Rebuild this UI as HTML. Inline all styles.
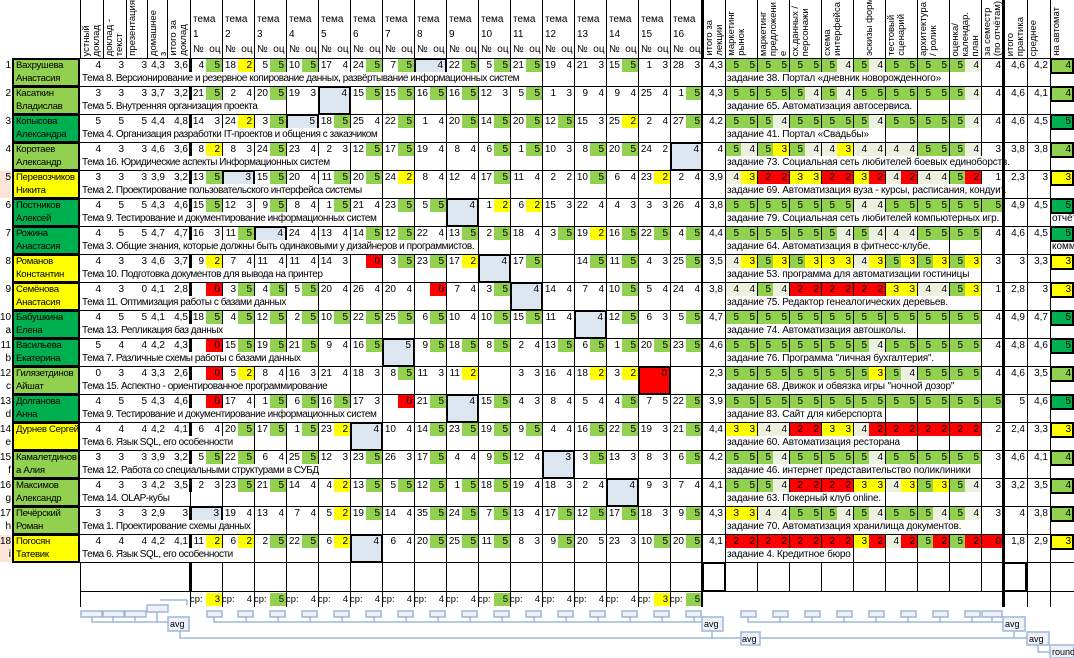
<!DOCTYPE html>
<html><head><meta charset="utf-8">
<style>
*{box-sizing:border-box}
body{margin:0;width:1074px;height:658px;overflow:hidden;background:#fff;font-family:"Liberation Sans",sans-serif;font-size:10px;color:#000;position:relative}
.r{position:absolute;left:0;width:1074px;height:28px}
.r:before{content:"";position:absolute;left:80px;right:0;top:0;height:1px;background:#000;z-index:4}
.n{position:absolute;left:0;top:1px;width:11px;height:27px;text-align:right;line-height:13px;font-size:10px}
.nm{position:absolute;left:12px;top:0;width:68px;height:29px;border:2px solid #000;padding-left:2px;line-height:12.5px;font-size:9.6px;letter-spacing:-0.3px;z-index:5;white-space:nowrap;overflow:hidden}
.t{position:absolute;left:80px;top:1px;width:994px;height:13px;display:grid;grid-template-columns:23px 23px 23px 18px 23px repeat(32,16px) 23px repeat(16,16px) 22px 24px 23px 24px}
.t i{font-style:normal;text-align:right;padding-right:2px;line-height:13px;overflow:hidden;white-space:nowrap;height:13px}
.t i:last-child{visibility:hidden}
.g{background:#92d050}.G{background:#00b050}.y{background:#ffff00}.rd{background:#ff0000}.l{background:#ebf1de}
.at{position:absolute;left:1050px;top:0;width:24px;height:16px;border:2px solid #000;text-align:right;padding-right:1px;line-height:12px;z-index:5}
.v1{position:absolute;left:190px;top:0;width:513px;height:28px;background:repeating-linear-gradient(90deg,#000 0 1px,transparent 1px 32px);z-index:1}
.v2{position:absolute;left:725px;top:0;width:257px;height:28px;background:repeating-linear-gradient(90deg,#000 0 1px,transparent 1px 32px);z-index:1}
.v3{position:absolute;top:0;width:1px;height:28px;background:#000;z-index:1}
.th{position:absolute;left:189px;top:0;width:3px;height:14px;background:#000;z-index:2}
.tp{position:absolute;left:82px;top:14px;height:14px;line-height:14px;background:#fff;padding-right:2px;white-space:nowrap;font-size:10px;letter-spacing:-0.45px;z-index:3}
.zp{position:absolute;left:727px;top:14px;height:14px;line-height:14px;background:#fff;padding-right:2px;white-space:nowrap;font-size:10px;letter-spacing:-0.2px;z-index:3}
.bk{position:absolute;top:0;width:33px;height:29px;border:2px solid #000;background:#dce6f1;text-align:right;padding-right:2px;line-height:12px;z-index:2}
.bk.red{background:#ff0000}
.gl{position:absolute;background:#000;z-index:6}
.hd{position:absolute;top:0;height:58px;border-left:1px solid #000}
.rot{position:absolute;bottom:2px;left:1px;writing-mode:vertical-rl;transform:rotate(180deg);font-size:9.5px;line-height:10px;white-space:nowrap}
.tm{position:absolute;top:12px;font-size:10px;line-height:15px;white-space:nowrap}
.ex{position:absolute;left:1052px;top:14px;font-size:10px;line-height:14px;white-space:nowrap}
</style></head><body>

<div class="hd" style="left:80px;width:23px"><div class="rot">устный<br>доклад</div></div>
<div class="hd" style="left:103px;width:23px"><div class="rot">доклад -<br>текст</div></div>
<div class="hd" style="left:126px;width:21px"><div class="rot">презентация</div></div>
<div class="hd" style="left:147px;width:20px"><div class="rot">домашнее<br>з</div></div>
<div class="hd" style="left:167px;width:23px"><div class="rot">итого за<br>доклад</div></div>
<div style="position:absolute;left:190px;top:0;width:513px;height:58px;background:repeating-linear-gradient(90deg,#000 0 1px,transparent 1px 32px)"></div>
<div class="tm" style="left:193px">тема<br>1<br>№&nbsp;&nbsp;оц</div>
<div class="tm" style="left:225px">тема<br>2<br>№&nbsp;&nbsp;оц</div>
<div class="tm" style="left:257px">тема<br>3<br>№&nbsp;&nbsp;оц</div>
<div class="tm" style="left:289px">тема<br>4<br>№&nbsp;&nbsp;оц</div>
<div class="tm" style="left:321px">тема<br>5<br>№&nbsp;&nbsp;оц</div>
<div class="tm" style="left:353px">тема<br>6<br>№&nbsp;&nbsp;оц</div>
<div class="tm" style="left:385px">тема<br>7<br>№&nbsp;&nbsp;оц</div>
<div class="tm" style="left:417px">тема<br>8<br>№&nbsp;&nbsp;оц</div>
<div class="tm" style="left:449px">тема<br>9<br>№&nbsp;&nbsp;оц</div>
<div class="tm" style="left:481px">тема<br>10<br>№&nbsp;&nbsp;оц</div>
<div class="tm" style="left:513px">тема<br>11<br>№&nbsp;&nbsp;оц</div>
<div class="tm" style="left:545px">тема<br>12<br>№&nbsp;&nbsp;оц</div>
<div class="tm" style="left:577px">тема<br>13<br>№&nbsp;&nbsp;оц</div>
<div class="tm" style="left:609px">тема<br>14<br>№&nbsp;&nbsp;оц</div>
<div class="tm" style="left:641px">тема<br>15<br>№&nbsp;&nbsp;оц</div>
<div class="tm" style="left:673px">тема<br>16<br>№&nbsp;&nbsp;оц</div>
<div class="hd" style="left:703px;width:22px"><div class="rot">итого за<br>лекции</div></div>
<div class="hd" style="left:725px;width:32px"><div class="rot">маркетинг<br>рынок</div></div>
<div class="hd" style="left:757px;width:32px"><div class="rot">маркетинг<br>предложени<br>е</div></div>
<div class="hd" style="left:789px;width:32px"><div class="rot">сх.данных /<br>персонажи</div></div>
<div class="hd" style="left:821px;width:32px"><div class="rot">схема<br>интерфейса</div></div>
<div class="hd" style="left:853px;width:32px"><div class="rot">&nbsp;<br>эскизы форм</div></div>
<div class="hd" style="left:885px;width:32px"><div class="rot">тестовый<br>сценарий</div></div>
<div class="hd" style="left:917px;width:32px"><div class="rot">архитектура<br>/ ролик</div></div>
<div class="hd" style="left:949px;width:32px"><div class="rot">оценка/<br>календар.<br>план</div></div>
<div class="hd" style="left:981px;width:22px"><div class="rot">за семестр<br>(по отчётам)</div></div>
<div class="hd" style="left:1004px;width:23px"><div class="rot">итого<br>практика</div></div>
<div class="hd" style="left:1027px;width:23px"><div class="rot">среднее</div></div>
<div class="hd" style="left:1050px;width:24px"><div class="rot">на автомат</div></div>

<div class="gl" style="left:701px;top:0;width:2px;height:607px"></div>
<div class="gl" style="left:1002px;top:0;width:3px;height:607px"></div>
<div class="gl" style="left:80px;top:562px;width:994px;height:1px"></div>
<div class="gl" style="left:80px;top:591px;width:994px;height:1px"></div>

<div class="r" style="top:58px"><div class="n">1</div><div class="nm g">Вахрушева<br>Анастасия</div><div class="t"><i>4</i><i>3</i><i>3</i><i>4,3</i><i>3,6</i><i>4</i><i class=g>5</i><i>18</i><i class=y>2</i><i>5</i><i class=g>5</i><i>10</i><i class=g>5</i><i>17</i><i>4</i><i>24</i><i class=g>5</i><i>7</i><i class=g>5</i><i></i><i></i><i>22</i><i class=g>5</i><i>5</i><i class=g>5</i><i>21</i><i class=g>5</i><i>19</i><i>4</i><i>21</i><i>3</i><i>15</i><i class=g>5</i><i>1</i><i>3</i><i>28</i><i>3</i><i>4,3</i><i class=g>5</i><i class=g>5</i><i class=g>5</i><i class=g>5</i><i class=g>5</i><i class=g>5</i><i class=g>5</i><i class=l>4</i><i class=g>5</i><i class=l>4</i><i class=g>5</i><i class=g>5</i><i class=g>5</i><i class=g>5</i><i class=g>5</i><i class=l>4</i><i>4</i><i>4,6</i><i>4,2</i><i></i></div><div class="at g">4</div><div class="v1"></div><div class="v2"></div><div class="th"></div><div class="v3" style="left:1027px"></div><div class="v3" style="left:1050px"></div><div class="bk" style="left:414px">4</div><div class="tp">Тема 8. Версионирование и резервное копирование данных, развёртывание информационных систем</div><div class="zp">задание 38. Портал «дневник новорожденного»</div></div>

<div class="r" style="top:86px"><div class="n">2</div><div class="nm g">Касаткин<br>Владислав</div><div class="t"><i>3</i><i>3</i><i>3</i><i>3,7</i><i>3,2</i><i>21</i><i class=g>5</i><i>2</i><i>4</i><i>20</i><i class=g>5</i><i>19</i><i>3</i><i></i><i></i><i>15</i><i class=g>5</i><i>15</i><i class=g>5</i><i>16</i><i class=g>5</i><i>16</i><i class=g>5</i><i>12</i><i>3</i><i>5</i><i class=g>5</i><i>1</i><i>3</i><i>9</i><i>4</i><i>9</i><i>4</i><i>25</i><i>4</i><i>1</i><i class=g>5</i><i>4,3</i><i class=g>5</i><i class=g>5</i><i class=g>5</i><i class=g>5</i><i class=g>5</i><i class=l>4</i><i class=g>5</i><i class=l>4</i><i class=g>5</i><i class=g>5</i><i class=g>5</i><i class=g>5</i><i class=g>5</i><i class=g>5</i><i class=g>5</i><i class=l>4</i><i>4</i><i>4,6</i><i>4,1</i><i></i></div><div class="at g">4</div><div class="v1"></div><div class="v2"></div><div class="th"></div><div class="v3" style="left:1027px"></div><div class="v3" style="left:1050px"></div><div class="bk" style="left:318px">4</div><div class="tp">Тема 5. Внутренняя организация проекта</div><div class="zp">задание 65. Автоматизация автосервиса.</div></div>

<div class="r" style="top:114px"><div class="n">3</div><div class="nm G">Копысова<br>Александра</div><div class="t"><i>5</i><i>5</i><i>5</i><i>4,4</i><i>4,8</i><i>14</i><i>3</i><i>24</i><i class=y>2</i><i>3</i><i class=g>5</i><i></i><i></i><i>18</i><i class=g>5</i><i>25</i><i>4</i><i>22</i><i class=g>5</i><i>1</i><i>4</i><i>20</i><i class=g>5</i><i>14</i><i class=g>5</i><i>20</i><i class=g>5</i><i>12</i><i class=g>5</i><i>15</i><i>3</i><i>25</i><i class=y>2</i><i>2</i><i>4</i><i>27</i><i class=g>5</i><i>4,2</i><i class=g>5</i><i class=g>5</i><i class=g>5</i><i class=l>4</i><i class=g>5</i><i class=g>5</i><i class=g>5</i><i class=g>5</i><i class=g>5</i><i class=l>4</i><i class=g>5</i><i class=g>5</i><i class=g>5</i><i class=g>5</i><i class=g>5</i><i class=l>4</i><i>4</i><i>4,6</i><i>4,5</i><i></i></div><div class="at G">5</div><div class="v1"></div><div class="v2"></div><div class="th"></div><div class="v3" style="left:1027px"></div><div class="v3" style="left:1050px"></div><div class="bk" style="left:286px">5</div><div class="tp">Тема 4. Организация разработки IT-проектов и общения с заказчиком</div><div class="zp">задание 41. Портал «Свадьбы»</div></div>

<div class="r" style="top:142px"><div class="n">4</div><div class="nm g">Коротаев<br>Александр</div><div class="t"><i>4</i><i>3</i><i>3</i><i>4,6</i><i>3,6</i><i>8</i><i class=y>2</i><i>8</i><i>3</i><i>24</i><i class=g>5</i><i>23</i><i>4</i><i>2</i><i>3</i><i>12</i><i class=g>5</i><i>17</i><i class=g>5</i><i>19</i><i>4</i><i>8</i><i>4</i><i>6</i><i class=g>5</i><i>1</i><i class=g>5</i><i>10</i><i>3</i><i>8</i><i class=g>5</i><i>20</i><i class=g>5</i><i>24</i><i>2</i><i></i><i></i><i>4</i><i class=g>5</i><i class=l>4</i><i class=g>5</i><i class=y>3</i><i class=g>5</i><i class=l>4</i><i class=l>4</i><i class=y>3</i><i class=l>4</i><i class=l>4</i><i class=l>4</i><i class=l>4</i><i class=g>5</i><i class=g>5</i><i class=g>5</i><i class=l>4</i><i>3</i><i>3,8</i><i>3,8</i><i></i></div><div class="at g">4</div><div class="v1"></div><div class="v2"></div><div class="th"></div><div class="v3" style="left:1027px"></div><div class="v3" style="left:1050px"></div><div class="bk" style="left:670px">4</div><div class="tp">Тема 16. Юридические аспекты Информационных систем</div><div class="zp">задание 73. Социальная сеть любителей боевых единоборств.</div></div>

<div class="r" style="top:170px"><div class="n" style="background:#fce4d6">5</div><div class="nm y">Перевозчиков<br>Никита</div><div class="t"><i>3</i><i>3</i><i>3</i><i>3,9</i><i>3,2</i><i>13</i><i class=g>5</i><i></i><i></i><i>15</i><i class=g>5</i><i>20</i><i>4</i><i>11</i><i class=g>5</i><i>20</i><i class=g>5</i><i>24</i><i class=y>2</i><i>8</i><i>4</i><i>12</i><i>4</i><i>17</i><i class=g>5</i><i>11</i><i>4</i><i>2</i><i>2</i><i>10</i><i class=g>5</i><i>6</i><i>4</i><i>23</i><i class=y>2</i><i>2</i><i>4</i><i>3,9</i><i class=l>4</i><i class=y>3</i><i class=rd>2</i><i class=rd>2</i><i class=y>3</i><i class=y>3</i><i class=rd>2</i><i class=rd>2</i><i class=y>3</i><i class=rd>2</i><i class=l>4</i><i class=rd>2</i><i class=l>4</i><i class=l>4</i><i class=g>5</i><i class=rd>2</i><i>1</i><i>2,3</i><i>3</i><i></i></div><div class="at y">3</div><div class="v1"></div><div class="v2"></div><div class="th"></div><div class="v3" style="left:1027px"></div><div class="v3" style="left:1050px"></div><div class="bk" style="left:222px">3</div><div class="tp">Тема 2. Проектирование пользовательского интерфейса системы</div><div class="zp">задание 69. Автоматизация вуза - курсы, расписания, кондуит.</div></div>

<div class="r" style="top:198px"><div class="n">6</div><div class="nm G">Постников<br>Алексей</div><div class="t"><i>4</i><i>5</i><i>5</i><i>4,3</i><i>4,6</i><i>15</i><i class=g>5</i><i>12</i><i>3</i><i>9</i><i class=g>5</i><i>8</i><i>4</i><i>1</i><i class=g>5</i><i>21</i><i>4</i><i>23</i><i class=g>5</i><i>5</i><i class=g>5</i><i></i><i></i><i>1</i><i class=y>2</i><i>6</i><i class=y>2</i><i>15</i><i>3</i><i>22</i><i>4</i><i>4</i><i>3</i><i>3</i><i>3</i><i>26</i><i>4</i><i>3,8</i><i class=g>5</i><i class=g>5</i><i class=g>5</i><i class=g>5</i><i class=g>5</i><i class=g>5</i><i class=g>5</i><i class=g>5</i><i class=l>4</i><i class=l>4</i><i class=g>5</i><i class=g>5</i><i class=g>5</i><i class=g>5</i><i class=g>5</i><i class=g>5</i><i class=g>5</i><i>4,9</i><i>4,5</i><i></i></div><div class="at G">5</div><div class="v1"></div><div class="v2"></div><div class="th"></div><div class="v3" style="left:1027px"></div><div class="v3" style="left:1050px"></div><div class="bk" style="left:446px">4</div><div class="tp">Тема 9. Тестирование и документирование информационных систем</div><div class="zp">задание 79. Социальная сеть любителей компьютерных игр.</div><div class="ex">отчёт</div></div>

<div class="r" style="top:226px"><div class="n">7</div><div class="nm G">Рожина<br>Анастасия</div><div class="t"><i>4</i><i>5</i><i>5</i><i>4,7</i><i>4,7</i><i>16</i><i>3</i><i>11</i><i class=g>5</i><i></i><i></i><i>24</i><i>4</i><i>13</i><i>4</i><i>14</i><i class=g>5</i><i>12</i><i class=g>5</i><i>22</i><i>4</i><i>13</i><i class=g>5</i><i>2</i><i class=g>5</i><i>18</i><i>4</i><i>3</i><i class=g>5</i><i>19</i><i class=y>2</i><i>16</i><i class=g>5</i><i>22</i><i class=g>5</i><i>4</i><i class=g>5</i><i>4,4</i><i class=g>5</i><i class=g>5</i><i class=g>5</i><i class=g>5</i><i class=g>5</i><i class=g>5</i><i class=g>5</i><i class=l>4</i><i class=g>5</i><i class=l>4</i><i class=l>4</i><i class=l>4</i><i class=g>5</i><i class=g>5</i><i class=g>5</i><i class=g>5</i><i>4</i><i>4,6</i><i>4,5</i><i></i></div><div class="at G">5</div><div class="v1"></div><div class="v2"></div><div class="th"></div><div class="v3" style="left:1027px"></div><div class="v3" style="left:1050px"></div><div class="bk" style="left:254px">4</div><div class="tp">Тема 3. Общие знания, которые должны быть одинаковыми у дизайнеров и программистов.</div><div class="zp">задание 64. Автоматизация в фитнесс-клубе.</div><div class="ex">комм</div></div>

<div class="r" style="top:254px"><div class="n">8</div><div class="nm y">Романов<br>Константин</div><div class="t"><i>4</i><i>3</i><i>3</i><i>4,6</i><i>3,7</i><i>9</i><i class=y>2</i><i>7</i><i>4</i><i>11</i><i>4</i><i>11</i><i>4</i><i>14</i><i>3</i><i></i><i class=rd>0</i><i>3</i><i class=g>5</i><i>23</i><i class=g>5</i><i>17</i><i class=y>2</i><i></i><i></i><i>17</i><i class=g>5</i><i></i><i></i><i>14</i><i class=g>5</i><i>11</i><i class=g>5</i><i>4</i><i>3</i><i>25</i><i class=g>5</i><i>3,5</i><i class=l>4</i><i class=y>3</i><i class=g>5</i><i class=y>3</i><i class=g>5</i><i class=y>3</i><i class=y>3</i><i class=y>3</i><i class=l>4</i><i class=y>3</i><i class=g>5</i><i class=y>3</i><i class=g>5</i><i class=y>3</i><i class=g>5</i><i class=y>3</i><i>3</i><i>3</i><i>3,3</i><i></i></div><div class="at y">3</div><div class="v1"></div><div class="v2"></div><div class="th"></div><div class="v3" style="left:1027px"></div><div class="v3" style="left:1050px"></div><div class="bk" style="left:478px">4</div><div class="tp">Тема 10. Подготовка документов для вывода на принтер</div><div class="zp">задание 53. программа для автоматизации гостиницы</div></div>

<div class="r" style="top:282px"><div class="n">9</div><div class="nm y">Семёнова<br>Анастасия</div><div class="t"><i>4</i><i>3</i><i>0</i><i>4,1</i><i>2,8</i><i></i><i class=rd>0</i><i>3</i><i class=g>5</i><i>4</i><i class=g>5</i><i>5</i><i class=g>5</i><i>20</i><i>4</i><i>26</i><i>4</i><i>20</i><i>4</i><i></i><i class=rd>0</i><i>7</i><i>4</i><i>3</i><i class=g>5</i><i></i><i></i><i>14</i><i>4</i><i>7</i><i>4</i><i>10</i><i class=g>5</i><i>5</i><i>4</i><i>24</i><i>4</i><i>3,8</i><i class=l>4</i><i class=l>4</i><i class=g>5</i><i class=l>4</i><i class=rd>2</i><i class=rd>2</i><i class=rd>2</i><i class=rd>2</i><i class=rd>2</i><i class=rd>2</i><i class=y>3</i><i class=y>3</i><i class=l>4</i><i class=l>4</i><i class=g>5</i><i class=y>3</i><i>1</i><i>2,8</i><i>3</i><i></i></div><div class="at y">3</div><div class="v1"></div><div class="v2"></div><div class="th"></div><div class="v3" style="left:1027px"></div><div class="v3" style="left:1050px"></div><div class="bk" style="left:510px">4</div><div class="tp">Тема 11. Оптимизация работы с базами данных</div><div class="zp">задание 75. Редактор генеалогических деревьев.</div></div>

<div class="r" style="top:310px"><div class="n">10<br>a</div><div class="nm G">Бабушкина<br>Елена</div><div class="t"><i>4</i><i>5</i><i>5</i><i>4,1</i><i>4,5</i><i>18</i><i class=g>5</i><i>4</i><i class=g>5</i><i>12</i><i class=g>5</i><i>2</i><i class=g>5</i><i>10</i><i class=g>5</i><i>22</i><i class=g>5</i><i>25</i><i class=g>5</i><i>6</i><i class=g>5</i><i>10</i><i>4</i><i>10</i><i class=g>5</i><i>15</i><i class=g>5</i><i>11</i><i>4</i><i></i><i></i><i>12</i><i class=g>5</i><i>6</i><i>3</i><i>5</i><i class=g>5</i><i>4,7</i><i class=g>5</i><i class=g>5</i><i class=g>5</i><i class=g>5</i><i class=g>5</i><i class=g>5</i><i class=g>5</i><i class=g>5</i><i class=g>5</i><i class=g>5</i><i class=g>5</i><i class=g>5</i><i class=g>5</i><i class=g>5</i><i class=g>5</i><i class=g>5</i><i>4</i><i>4,9</i><i>4,7</i><i></i></div><div class="at G">5</div><div class="v1"></div><div class="v2"></div><div class="th"></div><div class="v3" style="left:1027px"></div><div class="v3" style="left:1050px"></div><div class="bk" style="left:574px">4</div><div class="tp">Тема 13. Репликация баз данных</div><div class="zp">задание 74. Автоматизация автошколы.</div></div>

<div class="r" style="top:338px"><div class="n">11<br>b</div><div class="nm G">Васильева<br>Екатерина</div><div class="t"><i>5</i><i>4</i><i>4</i><i>4,2</i><i>4,3</i><i></i><i class=rd>0</i><i>15</i><i class=g>5</i><i>19</i><i class=g>5</i><i>21</i><i class=g>5</i><i>9</i><i>4</i><i>16</i><i class=g>5</i><i></i><i></i><i>9</i><i class=g>5</i><i>18</i><i class=g>5</i><i>8</i><i class=g>5</i><i>2</i><i>4</i><i>13</i><i class=g>5</i><i>6</i><i class=g>5</i><i>1</i><i class=g>5</i><i>20</i><i class=g>5</i><i>23</i><i class=g>5</i><i>4,6</i><i class=g>5</i><i class=g>5</i><i class=g>5</i><i class=g>5</i><i class=g>5</i><i class=g>5</i><i class=g>5</i><i class=g>5</i><i class=g>5</i><i class=l>4</i><i class=g>5</i><i class=g>5</i><i class=g>5</i><i class=g>5</i><i class=g>5</i><i class=g>5</i><i>4</i><i>4,8</i><i>4,6</i><i></i></div><div class="at G">5</div><div class="v1"></div><div class="v2"></div><div class="th"></div><div class="v3" style="left:1027px"></div><div class="v3" style="left:1050px"></div><div class="bk" style="left:382px">5</div><div class="tp">Тема 7. Различные схемы работы с базами данных</div><div class="zp">задание 76. Программа "личная бухгалтерия".</div></div>

<div class="r" style="top:366px"><div class="n">12<br>c</div><div class="nm g">Гилязетдинов<br>Айшат</div><div class="t"><i>0</i><i>3</i><i>4</i><i>3,3</i><i>2,6</i><i></i><i class=rd>0</i><i>5</i><i class=y>2</i><i>8</i><i>4</i><i>16</i><i>3</i><i>21</i><i>4</i><i>18</i><i>3</i><i>8</i><i class=g>5</i><i>11</i><i>3</i><i>11</i><i class=y>2</i><i></i><i></i><i>3</i><i>3</i><i>16</i><i>4</i><i>18</i><i class=y>2</i><i>3</i><i class=y>2</i><i></i><i></i><i></i><i></i><i>2,3</i><i class=g>5</i><i class=g>5</i><i class=g>5</i><i class=g>5</i><i class=g>5</i><i class=g>5</i><i class=g>5</i><i class=g>5</i><i class=g>5</i><i class=y>3</i><i class=g>5</i><i class=l>4</i><i class=g>5</i><i class=g>5</i><i class=g>5</i><i class=g>5</i><i>4</i><i>4,6</i><i>3,5</i><i></i></div><div class="at g">4</div><div class="v1"></div><div class="v2"></div><div class="th"></div><div class="v3" style="left:1027px"></div><div class="v3" style="left:1050px"></div><div class="bk red" style="left:638px">0</div><div class="tp">Тема 15. Аспектно - ориентированное программирование</div><div class="zp">задание 68. Движок и обвязка игры "ночной дозор"</div></div>

<div class="r" style="top:394px"><div class="n">13<br>d</div><div class="nm G">Долганова<br>Анна</div><div class="t"><i>4</i><i>5</i><i>5</i><i>4,3</i><i>4,6</i><i></i><i class=rd>0</i><i>17</i><i>4</i><i>1</i><i class=g>5</i><i>6</i><i class=g>5</i><i>16</i><i class=g>5</i><i>17</i><i>3</i><i></i><i class=rd>0</i><i>21</i><i class=g>5</i><i></i><i></i><i>15</i><i class=g>5</i><i>4</i><i>3</i><i>8</i><i>4</i><i>5</i><i>4</i><i>4</i><i class=g>5</i><i>7</i><i>5</i><i>22</i><i class=g>5</i><i>3,9</i><i class=g>5</i><i class=g>5</i><i class=g>5</i><i class=g>5</i><i class=g>5</i><i class=g>5</i><i class=g>5</i><i class=g>5</i><i class=g>5</i><i class=g>5</i><i class=g>5</i><i class=g>5</i><i class=g>5</i><i class=g>5</i><i class=g>5</i><i class=g>5</i><i class=g>5</i><i>5</i><i>4,6</i><i></i></div><div class="at G">5</div><div class="v1"></div><div class="v2"></div><div class="th"></div><div class="v3" style="left:1027px"></div><div class="v3" style="left:1050px"></div><div class="bk" style="left:446px">4</div><div class="tp">Тема 9. Тестирование и документирование информационных систем</div><div class="zp">задание 83. Сайт для киберспорта</div></div>

<div class="r" style="top:422px"><div class="n">14<br>e</div><div class="nm y">Дурнев Сергей</div><div class="t"><i>4</i><i>4</i><i>4</i><i>4,2</i><i>4,1</i><i>6</i><i>4</i><i>20</i><i class=g>5</i><i>17</i><i class=g>5</i><i>1</i><i class=g>5</i><i>23</i><i class=y>2</i><i></i><i></i><i>10</i><i>4</i><i>14</i><i class=g>5</i><i>23</i><i class=g>5</i><i>19</i><i class=g>5</i><i>9</i><i class=g>5</i><i>4</i><i>4</i><i>16</i><i class=g>5</i><i>22</i><i class=g>5</i><i>19</i><i>3</i><i>21</i><i class=g>5</i><i>4,4</i><i class=y>3</i><i class=y>3</i><i class=l>4</i><i class=l>4</i><i class=rd>2</i><i class=rd>2</i><i class=y>3</i><i class=y>3</i><i class=l>4</i><i class=rd>2</i><i class=rd>2</i><i class=rd>2</i><i class=rd>2</i><i class=rd>2</i><i class=rd>2</i><i class=rd>2</i><i>2</i><i>2,4</i><i>3,3</i><i></i></div><div class="at y">3</div><div class="v1"></div><div class="v2"></div><div class="th"></div><div class="v3" style="left:1027px"></div><div class="v3" style="left:1050px"></div><div class="bk" style="left:350px">4</div><div class="tp">Тема 6. Язык SQL, его особенности</div><div class="zp">задание 60. Автоматизация ресторана</div></div>

<div class="r" style="top:450px"><div class="n">15<br>f</div><div class="nm g">Камалетдинов<br>а Алия</div><div class="t"><i>3</i><i>3</i><i>3</i><i>3,9</i><i>3,2</i><i>5</i><i class=g>5</i><i>22</i><i class=g>5</i><i>6</i><i>4</i><i>25</i><i class=g>5</i><i>12</i><i>3</i><i>23</i><i class=g>5</i><i>26</i><i>3</i><i>17</i><i class=g>5</i><i>4</i><i>4</i><i>9</i><i class=g>5</i><i>12</i><i>4</i><i></i><i></i><i>3</i><i class=g>5</i><i>13</i><i>3</i><i>8</i><i>3</i><i>6</i><i class=g>5</i><i>4,2</i><i class=g>5</i><i class=g>5</i><i class=g>5</i><i class=l>4</i><i class=g>5</i><i class=g>5</i><i class=g>5</i><i class=g>5</i><i class=g>5</i><i class=l>4</i><i class=g>5</i><i class=g>5</i><i class=g>5</i><i class=g>5</i><i class=g>5</i><i class=g>5</i><i>3</i><i>4,6</i><i>4,1</i><i></i></div><div class="at g">4</div><div class="v1"></div><div class="v2"></div><div class="th"></div><div class="v3" style="left:1027px"></div><div class="v3" style="left:1050px"></div><div class="bk" style="left:542px">3</div><div class="tp">Тема 12. Работа со специальными структурами в СУБД</div><div class="zp">задание 46. интернет представительство поликлиники</div></div>

<div class="r" style="top:478px"><div class="n">16<br>g</div><div class="nm g">Максимов<br>Александр</div><div class="t"><i>4</i><i>3</i><i>3</i><i>4,2</i><i>3,5</i><i>2</i><i>3</i><i>23</i><i class=g>5</i><i>21</i><i class=g>5</i><i>14</i><i>4</i><i>4</i><i class=y>2</i><i>13</i><i class=g>5</i><i>5</i><i class=g>5</i><i>12</i><i class=g>5</i><i>1</i><i class=g>5</i><i>18</i><i class=g>5</i><i>19</i><i>4</i><i>18</i><i>3</i><i>2</i><i>4</i><i></i><i></i><i>9</i><i>3</i><i>7</i><i>4</i><i>4,1</i><i class=g>5</i><i class=g>5</i><i class=g>5</i><i class=l>4</i><i class=rd>2</i><i class=rd>2</i><i class=rd>2</i><i class=rd>2</i><i class=y>3</i><i class=y>3</i><i class=l>4</i><i class=y>3</i><i class=g>5</i><i class=y>3</i><i class=g>5</i><i class=l>4</i><i>3</i><i>3,2</i><i>3,5</i><i></i></div><div class="at g">4</div><div class="v1"></div><div class="v2"></div><div class="th"></div><div class="v3" style="left:1027px"></div><div class="v3" style="left:1050px"></div><div class="bk" style="left:606px">4</div><div class="tp">Тема 14. OLAP-кубы</div><div class="zp">задание 63. Покерный клуб online.</div></div>

<div class="r" style="top:506px"><div class="n">17<br>h</div><div class="nm g">Печёрский<br>Роман</div><div class="t"><i>3</i><i>3</i><i>3</i><i>2,9</i><i>3</i><i></i><i></i><i>19</i><i>4</i><i>13</i><i>4</i><i>7</i><i>4</i><i>5</i><i class=y>2</i><i>19</i><i class=g>5</i><i>14</i><i>4</i><i>35</i><i class=g>5</i><i>24</i><i class=g>5</i><i>7</i><i class=g>5</i><i>13</i><i>4</i><i>17</i><i class=g>5</i><i>12</i><i class=g>5</i><i>17</i><i class=g>5</i><i>18</i><i>3</i><i>9</i><i class=g>5</i><i>4,3</i><i class=y>3</i><i class=y>3</i><i class=l>4</i><i class=l>4</i><i class=g>5</i><i class=g>5</i><i class=g>5</i><i class=l>4</i><i class=g>5</i><i class=l>4</i><i class=g>5</i><i class=g>5</i><i class=g>5</i><i class=l>4</i><i class=g>5</i><i class=l>4</i><i>3</i><i>4</i><i>3,8</i><i></i></div><div class="at g">4</div><div class="v1"></div><div class="v2"></div><div class="th"></div><div class="v3" style="left:1027px"></div><div class="v3" style="left:1050px"></div><div class="bk" style="left:190px">3</div><div class="tp">Тема 1. Проектирование схемы данных</div><div class="zp">задание 70. Автоматизация хранилища документов.</div></div>

<div class="r" style="top:534px"><div class="n" style="background:#fce4d6">18<br>i</div><div class="nm y">Погосян<br>Татевик</div><div class="t"><i>4</i><i>4</i><i>4</i><i>4,2</i><i>4,1</i><i>11</i><i class=y>2</i><i>6</i><i class=y>2</i><i>2</i><i class=g>5</i><i>22</i><i class=g>5</i><i>6</i><i class=y>2</i><i></i><i></i><i>6</i><i>4</i><i>20</i><i class=g>5</i><i>25</i><i class=g>5</i><i>11</i><i class=g>5</i><i>8</i><i>3</i><i>9</i><i class=g>5</i><i>20</i><i>5</i><i>23</i><i>3</i><i>10</i><i class=g>5</i><i>20</i><i class=g>5</i><i>4,1</i><i class=rd>2</i><i class=rd>2</i><i class=rd>2</i><i class=rd>2</i><i class=rd>2</i><i class=rd>2</i><i class=rd>2</i><i class=rd>2</i><i class=y>3</i><i class=rd>2</i><i class=l>4</i><i class=rd>2</i><i class=g>5</i><i class=rd>2</i><i class=g>5</i><i class=rd>2</i><i class=rd>0</i><i>1,8</i><i>2,9</i><i></i></div><div class="at y">3</div><div class="v1"></div><div class="v2"></div><div class="th"></div><div class="v3" style="left:1027px"></div><div class="v3" style="left:1050px"></div><div class="bk" style="left:350px">4</div><div class="tp">Тема 6. Язык SQL, его особенности</div><div class="zp">задание 4. Кредитное бюро</div></div>

<div style="position:absolute;left:190px;top:562px;width:513px;height:45px;background:repeating-linear-gradient(90deg,#000 0 1px,transparent 1px 32px)"></div>
<div style="position:absolute;left:725px;top:562px;width:257px;height:30px;background:repeating-linear-gradient(90deg,#000 0 1px,transparent 1px 32px)"></div>
<div class="gl" style="left:80px;top:562px;width:1px;height:45px"></div>
<div class="gl" style="left:189px;top:562px;width:3px;height:30px"></div>
<div class="gl" style="left:1027px;top:562px;width:1px;height:45px"></div>
<div class="gl" style="left:1050px;top:562px;width:1px;height:45px"></div>
<div style="position:absolute;left:702px;top:562px;width:24px;height:30px;border:2px solid #000"></div>
<div style="position:absolute;left:1003px;top:562px;width:24px;height:30px;border:2px solid #000"></div>
<div style="position:absolute;left:190px;top:593px;height:13px;display:grid;grid-template-columns:repeat(32,16px);font-size:9.5px;line-height:13px">
<i style="font-style:normal">ср:</i><i style="font-style:normal;text-align:right;padding-right:2px;background:#ffff00">3</i>
<i style="font-style:normal">ср:</i><i style="font-style:normal;text-align:right;padding-right:2px">4</i>
<i style="font-style:normal">ср:</i><i style="font-style:normal;text-align:right;padding-right:2px;background:#92d050">5</i>
<i style="font-style:normal">ср:</i><i style="font-style:normal;text-align:right;padding-right:2px">4</i>
<i style="font-style:normal">ср:</i><i style="font-style:normal;text-align:right;padding-right:2px">4</i>
<i style="font-style:normal">ср:</i><i style="font-style:normal;text-align:right;padding-right:2px">4</i>
<i style="font-style:normal">ср:</i><i style="font-style:normal;text-align:right;padding-right:2px">4</i>
<i style="font-style:normal">ср:</i><i style="font-style:normal;text-align:right;padding-right:2px">4</i>
<i style="font-style:normal">ср:</i><i style="font-style:normal;text-align:right;padding-right:2px">4</i>
<i style="font-style:normal">ср:</i><i style="font-style:normal;text-align:right;padding-right:2px;background:#92d050">5</i>
<i style="font-style:normal">ср:</i><i style="font-style:normal;text-align:right;padding-right:2px">4</i>
<i style="font-style:normal">ср:</i><i style="font-style:normal;text-align:right;padding-right:2px">4</i>
<i style="font-style:normal">ср:</i><i style="font-style:normal;text-align:right;padding-right:2px">4</i>
<i style="font-style:normal">ср:</i><i style="font-style:normal;text-align:right;padding-right:2px">4</i>
<i style="font-style:normal">ср:</i><i style="font-style:normal;text-align:right;padding-right:2px;background:#ffff00">3</i>
<i style="font-style:normal">ср:</i><i style="font-style:normal;text-align:right;padding-right:2px;background:#92d050">5</i>
</div>

<svg style="position:absolute;left:0;top:0" width="1074" height="658" xmlns="http://www.w3.org/2000/svg">
<g fill="#eef2f8" stroke="#9fb6d8" stroke-width="1.5">
<rect x="81" y="611" width="21" height="6"/><rect x="103" y="611" width="21" height="6"/><rect x="125" y="611" width="21" height="6"/><rect x="147" y="605" width="21" height="7"/>
<rect x="207" y="611" width="15" height="6"/><rect x="238" y="611" width="15" height="6"/><rect x="270" y="611" width="15" height="6"/><rect x="302" y="611" width="15" height="6"/><rect x="334" y="611" width="15" height="6"/><rect x="366" y="611" width="15" height="6"/><rect x="398" y="611" width="15" height="6"/><rect x="430" y="611" width="15" height="6"/><rect x="462" y="611" width="15" height="6"/><rect x="494" y="611" width="15" height="6"/><rect x="526" y="611" width="15" height="6"/><rect x="558" y="611" width="15" height="6"/><rect x="590" y="611" width="15" height="6"/><rect x="622" y="611" width="15" height="6"/><rect x="654" y="611" width="15" height="6"/><rect x="686" y="611" width="15" height="6"/>
<rect x="741" y="611" width="15" height="6"/><rect x="773" y="611" width="15" height="6"/><rect x="805" y="611" width="15" height="6"/><rect x="837" y="611" width="15" height="6"/><rect x="869" y="611" width="15" height="6"/><rect x="901" y="611" width="15" height="6"/><rect x="933" y="611" width="15" height="6"/><rect x="965" y="611" width="15" height="6"/><rect x="982" y="611" width="20" height="6"/>
<rect x="168" y="617" width="21" height="14"/><rect x="702" y="617" width="21" height="14"/><rect x="741" y="632" width="19" height="13"/><rect x="1003" y="617" width="22" height="14"/><rect x="1027" y="632" width="22" height="13"/><rect x="1050" y="645" width="24" height="13"/>
</g>
<g fill="none" stroke="#9fb6d8" stroke-width="1.5">
<path d="M92 617V622H168M113 617V622M135 617V622M157 612V622M214 617V622H702M246 617V622M278 617V622M310 617V622M342 617V622M374 617V622M406 617V622M438 617V622M470 617V622M502 617V622M534 617V622M566 617V622M598 617V622M630 617V622M662 617V622M694 617V622"/>
<path d="M748 617V622H1003M780 617V622M812 617V622M844 617V622M876 617V622M908 617V622M940 617V622M972 617V622M992 617V622"/>
<path d="M180 631V638H741M712 631V638M760 638H1027M1038 645V652H1050M1014 631V638M187 600V605M160 600H187"/>
</g>
<g font-family="Liberation Sans, sans-serif" font-size="9" fill="#000">
<text x="170" y="627">avg</text><text x="704" y="627">avg</text><text x="742" y="642">avg</text><text x="1005" y="627">avg</text><text x="1029" y="642">avg</text><text x="1052" y="655">round</text>
</g>
</svg>
</body></html>
